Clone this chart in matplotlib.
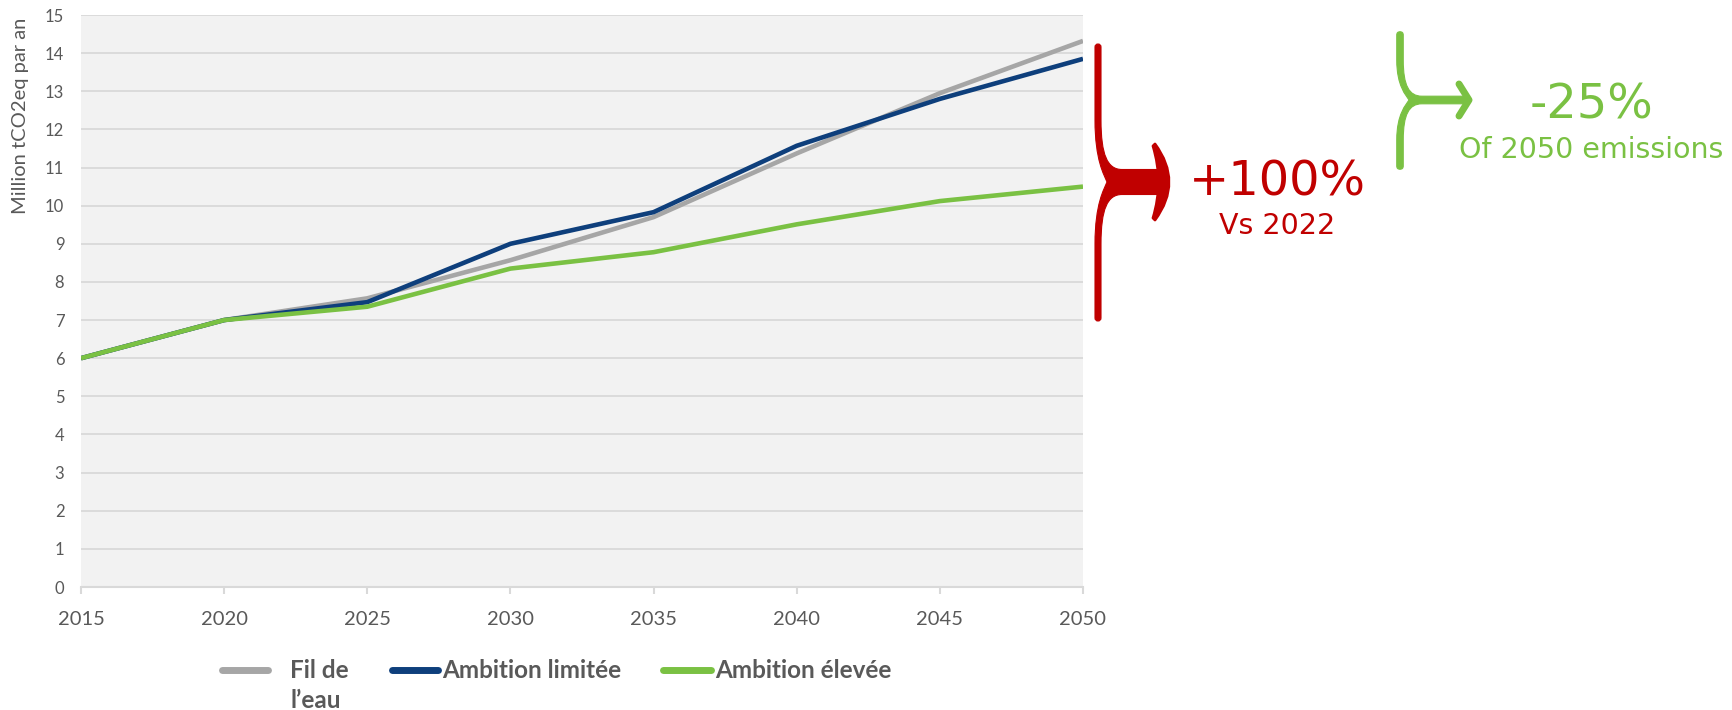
import matplotlib.pyplot as plt
from matplotlib.path import Path
from matplotlib.patches import PathPatch
from matplotlib.lines import Line2D

# ---------------------------------------------------------------------------
# Data (Million tCO2eq par an)
# ---------------------------------------------------------------------------
years = [2015, 2020, 2025, 2030, 2035, 2040, 2045, 2050]
fil_de_leau = [6.0, 7.0, 7.57, 8.57, 9.70, 11.37, 12.95, 14.32]
ambition_limitee = [6.0, 7.0, 7.47, 9.0, 9.83, 11.57, 12.8, 13.85]
ambition_elevee = [6.0, 7.0, 7.35, 8.35, 8.78, 9.51, 10.12, 10.5]

series_names = ["Fil de l’eau", "Ambition limitée", "Ambition élevée"]
series_values = [fil_de_leau, ambition_limitee, ambition_elevee]
series_colors = ["#A6A6A6", "#0E3F7C", "#7AC143"]

y_ticks = list(range(0, 16))
y_label = "Million tCO2eq par an"

red_main, red_sub = "+100%", "Vs 2022"
green_main, green_sub = "-25%", "Of 2050 emissions"

RED = "#C00000"
GREEN = "#7AC143"
TXT = "#595959"
GRID = "#D9D9D9"

W, H = 1732, 710
fig = plt.figure(figsize=(W / 100, H / 100), dpi=100)

# main chart area
ax = fig.add_axes([81 / W, 1 - 587 / H, (1083 - 81) / W, (587 - 15) / H])
ax.set_facecolor("#F2F2F2")
for name, vals, col in zip(series_names, series_values, series_colors):
    ax.plot(years, vals, color=col, lw=3.3, solid_capstyle="butt", zorder=3)

ax.set_xlim(years[0], years[-1])
ax.set_ylim(y_ticks[0], y_ticks[-1])
ax.set_xticks(years)
ax.set_yticks(y_ticks)
ax.grid(axis="y", color=GRID, lw=1.3, zorder=1)
for s in ["top", "right", "left"]:
    ax.spines[s].set_visible(False)
ax.spines["bottom"].set_color(GRID)
ax.spines["bottom"].set_linewidth(1.5)
ax.tick_params(axis="x", colors=GRID, length=5, width=1.5, pad=12,
               labelsize=14.5, labelcolor=TXT)
ax.tick_params(axis="y", length=0, pad=12, labelsize=12, labelcolor=TXT)
for lab in ax.get_xticklabels() + ax.get_yticklabels():
    lab.set_fontfamily("Lato")

# overlay in pixel coordinates for annotations and legend
ov = fig.add_axes([0, 0, 1, 1])
ov.set_xlim(0, W)
ov.set_ylim(H, 0)
ov.axis("off")
ov.patch.set_visible(False)

ov.text(21, 116, y_label, rotation=90, ha="center", va="center",
        fontsize=14.5, color=TXT, family="Lato")

# legend (drawn by hand to mimic the wrapped Excel legend)
handle_x = [(222, 268), (392, 438), (663, 711)]
text_x = [290, 442, 715]
for (x0, x1), tx, name, col in zip(handle_x, text_x, series_names, series_colors):
    ov.add_line(Line2D([x0, x1], [670, 670], color=col, lw=5,
                       solid_capstyle="round"))
    lines = name.rsplit(" ", 1) if name == series_names[0] else [name]
    for i, part in enumerate(lines):
        ov.text(tx, 678 + 30 * i, part, ha="left", va="baseline",
                fontsize=17.5, fontweight="bold", color=TXT, family="Lato")


def brace(x, w, top, bottom, mid, r, cusp, join, half, bar_end, color):
    """Curly brace whose middle opens into a horizontal bar."""
    xl, xr = x - w / 2, x + w / 2
    verts = [
        (x, top - w / 2), (xl, top - w / 2), (xl, top),          # round top
        (xl, mid - r),
        (xl, mid - 0.35 * r), (cusp - 3, mid - 0.12 * r), (cusp, mid),
        (cusp - 3, mid + 0.12 * r), (xl, mid + 0.35 * r), (xl, mid + r),
        (xl, bottom),
        (xl, bottom + w / 2), (x, bottom + w / 2),               # round bottom
        (xr, bottom + w / 2), (xr, bottom),
        (xr, mid + r),
        (xr, mid + half + 0.3 * (r - half)), (xr + 0.3 * (join - xr), mid + half),
        (join, mid + half),
        (bar_end, mid + half), (bar_end, mid - half), (join, mid - half),
        (xr + 0.3 * (join - xr), mid - half), (xr, mid - half - 0.3 * (r - half)),
        (xr, mid - r),
        (xr, top),
        (xr, top - w / 2), (x, top - w / 2),
        (x, top - w / 2),
    ]
    codes = [Path.MOVETO, Path.CURVE3, Path.CURVE3,
             Path.LINETO,
             Path.CURVE4, Path.CURVE4, Path.CURVE4,
             Path.CURVE4, Path.CURVE4, Path.CURVE4,
             Path.LINETO,
             Path.CURVE3, Path.CURVE3,
             Path.CURVE3, Path.CURVE3,
             Path.LINETO,
             Path.CURVE4, Path.CURVE4, Path.CURVE4,
             Path.LINETO, Path.LINETO, Path.LINETO,
             Path.CURVE4, Path.CURVE4, Path.CURVE4,
             Path.LINETO,
             Path.CURVE3, Path.CURVE3,
             Path.CLOSEPOLY]
    ov.add_patch(PathPatch(Path(verts, codes), fc=color, ec=color, lw=0.8))


# red brace with a lens-shaped arrow head
brace(1098, 6, 47, 318, 182, 62, 1107, 1122, 12.5, 1160, RED)
head = Path([(1155, 144), (1183, 182), (1155, 220), (1153, 218),
             (1164, 182), (1153, 146), (1155, 144)],
            [Path.MOVETO, Path.CURVE3, Path.CURVE3, Path.LINETO,
             Path.CURVE3, Path.CURVE3, Path.CLOSEPOLY])
ov.add_patch(PathPatch(head, fc=RED, ec=RED, lw=2, joinstyle="round"))
ov.text(1277, 182, red_main, ha="center", va="center", fontsize=34.5,
        color=RED, family="DejaVu Sans")
ov.text(1277, 226, red_sub, ha="center", va="center", fontsize=20.5,
        color=RED, family="DejaVu Sans")

# green brace with a chevron arrow head
brace(1400, 6.5, 35, 166, 100, 40, 1409, 1422, 3.8, 1466, GREEN)
ov.add_line(Line2D([1459, 1469, 1459], [84, 100, 116], color=GREEN, lw=5,
                   solid_capstyle="round", solid_joinstyle="round"))
ov.text(1591, 105, green_main, ha="center", va="center", fontsize=34.5,
        color=GREEN, family="DejaVu Sans")
ov.text(1591, 150, green_sub, ha="center", va="center", fontsize=20.5,
        color=GREEN, family="DejaVu Sans")

fig.savefig("out.png", dpi=100)
